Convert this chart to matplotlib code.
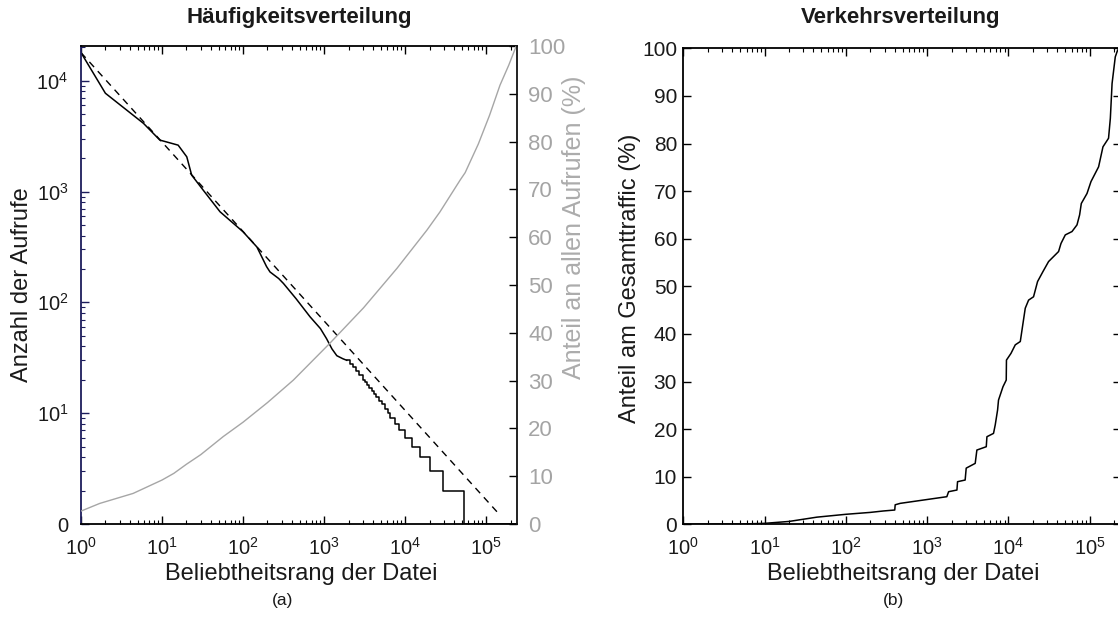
import matplotlib
matplotlib.use("Agg")
import matplotlib.pyplot as plt
from matplotlib.ticker import LogLocator, NullFormatter, FixedLocator

plt.rcParams['font.family'] = ['Liberation Sans', 'DejaVu Sans']
plt.rcParams['mathtext.fontset'] = 'custom'
plt.rcParams['mathtext.rm'] = 'Liberation Sans'
plt.rcParams['mathtext.it'] = 'Liberation Sans:italic'
plt.rcParams['mathtext.default'] = 'regular'

# ---- (a) request counts per file rank ----
# smooth upper part of the rank/frequency curve
head_rank = [1, 2, 5.9, 9.4, 15.8, 20.2, 23.2, 32.4, 52, 100, 148, 195, 215,
             275, 315, 450, 671, 900, 1072, 1250, 1435, 1700, 1900]
head_count = [17900, 7700, 4120, 2910, 2620, 2055, 1406, 1023, 656, 433, 316,
              210, 188, 164, 148, 108, 74, 58, 47, 38, 33, 31, 30]
# low-count tail: first rank with the given integer count
stair_rank = [1900, 2080, 2250, 2450, 2700, 3000, 3180, 3380, 3600, 3850, 4100,
              4400, 4750, 5150, 5600, 6100, 6450, 7400, 8500, 10000, 12100,
              15100, 20200, 28900, 53700, 235000]
stair_count = [30, 28, 26, 24, 22, 20, 19, 18, 17, 16, 15, 14, 13, 12, 11, 10,
               9, 8, 7, 6, 5, 4, 3, 2, 1, 1]
# fitted power law
fit_rank = [1, 1.5e5]
fit_count = [17900, 1.19]
# cumulative share of all requests (%)
share_rank = [1, 1.7, 4.4, 10, 14, 20, 30, 57, 100, 200, 417, 1175, 3055, 7940,
              18600, 26900, 47900, 55000, 80000, 110000, 148000, 190000, 235000]
share_pct = [2.7, 4.3, 6.4, 9.2, 10.6, 12.5, 14.5, 18.3, 21.3, 25.4, 30.1, 37.8,
             45.2, 53.5, 61.5, 65.3, 72.0, 73.5, 79.5, 85.5, 91.8, 96.0, 100.0]

# ---- (b) cumulative traffic share (%) ----
traffic_rank = [1, 5, 10, 20, 44, 100, 200, 290, 400, 405, 467, 1750, 1840, 2330,
                2370, 2940, 3030, 3910, 4100, 5350, 5450, 6570, 6900, 7370, 7570,
                8590, 9420, 9480, 10770, 12170, 14030, 15140, 16150, 17750,
                20420, 22890, 26680, 31270, 41510, 44450, 50230, 60700, 69950,
                75340, 79050, 92900, 104000, 129000, 146000, 171000, 180000,
                189000, 207000, 221000, 235000]
traffic_pct = [0.0, 0.05, 0.2, 0.6, 1.5, 2.1, 2.5, 2.8, 3.0, 4.1, 4.4, 5.8, 6.85,
               7.2, 8.95, 9.3, 11.8, 12.8, 15.6, 16.3, 18.4, 19.1, 20.9, 24.0,
               26.1, 28.9, 30.3, 34.5, 35.9, 37.7, 38.4, 42.2, 45.4, 47.1, 47.8,
               51.0, 53.1, 55.2, 57.3, 59.0, 60.8, 61.5, 62.9, 65.0, 67.4, 69.5,
               72.0, 75.1, 79.3, 81.1, 85.3, 92.6, 98.2, 99.6, 100.0]

x_ticks = [1, 10, 100, 1e3, 1e4, 1e5]
x_labels = ['$10^{%d}$' % i for i in range(6)]
x_max = 2.4e5

W, H = 1118, 617
fig = plt.figure(figsize=(W / 100, H / 100), dpi=100)

def px_axes(left, top, right, bottom):
    return fig.add_axes([left / W, 1 - bottom / H, (right - left) / W, (bottom - top) / H])

tick_fs = 14.5
label_fs = 17
title_fs = 16
navy = '#1c1c5c'
text_col = '#1a1a1a'
gray = '#a6a6a6'

def style_log_x(ax):
    ax.set_xscale('log')
    ax.set_xlim(1, x_max)
    ax.xaxis.set_major_locator(FixedLocator(x_ticks))
    ax.set_xticklabels(x_labels)
    ax.xaxis.set_minor_locator(LogLocator(base=10, subs=range(2, 10), numticks=20))
    ax.xaxis.set_minor_formatter(NullFormatter())
    ax.tick_params(axis='x', which='both', direction='in', top=True,
                   labelsize=tick_fs, labelcolor=text_col, pad=9)
    ax.tick_params(axis='x', which='major', length=6, width=1)
    ax.tick_params(axis='x', which='minor', length=3, width=0.8)

# ---------- panel (a) ----------
ax = px_axes(81, 46, 517, 524)
ax.plot(head_rank, head_count, color='black', lw=1.1)
ax.step(stair_rank, stair_count, where='post', color='black', lw=1.1)
ax.plot(fit_rank, fit_count, color='black', lw=1.0, ls=(0, (5, 4)))
style_log_x(ax)
ax.set_yscale('log')
ax.set_ylim(1, 20550)
ax.yaxis.set_major_locator(FixedLocator([1, 10, 100, 1e3, 1e4]))
ax.set_yticklabels(['0', '$10^{1}$', '$10^{2}$', '$10^{3}$', '$10^{4}$'])
ax.yaxis.set_minor_locator(LogLocator(base=10, subs=range(2, 10), numticks=20))
ax.yaxis.set_minor_formatter(NullFormatter())
ax.tick_params(axis='y', which='both', direction='in', right=False,
               labelsize=tick_fs, labelcolor=text_col, color=navy, pad=9)
ax.tick_params(axis='y', which='major', length=6, width=1)
ax.tick_params(axis='y', which='minor', length=3, width=0.8)
for s in ax.spines.values():
    s.set_linewidth(1.3)
ax.spines['left'].set_color(navy)
ax.spines['right'].set_visible(False)

ax2 = ax.twinx()
ax2.plot(share_rank, share_pct, color=gray, lw=1.0)
ax2.set_ylim(0, 100)
ax2.set_yticks(range(0, 101, 10))
ax2.tick_params(axis='y', direction='in', length=6, width=1, color='black',
                labelsize=16, labelcolor='#a4a4a4', pad=8)
for name in ['left', 'top', 'bottom']:
    ax2.spines[name].set_visible(False)
ax2.spines['right'].set_linewidth(1.3)
ax2.spines['right'].set_color('#111111')

fig.text(299 / W, 1 - 18 / H, 'Häufigkeitsverteilung', ha='center', va='center',
         fontsize=title_fs, fontweight='bold', color=text_col)
fig.text(22 / W, 1 - 285 / H, 'Anzahl der Aufrufe', rotation=90, ha='center',
         va='center', fontsize=label_fs, color=text_col)
fig.text(574 / W, 1 - 227 / H, 'Anteil an allen Aufrufen (%)', rotation=90,
         ha='center', va='center', fontsize=18, color='#acacac')
fig.text(301 / W, 1 - 574 / H, 'Beliebtheitsrang der Datei', ha='center',
         va='center', fontsize=label_fs, color=text_col)
fig.text(283 / W, 1 - 601 / H, '(a)', ha='center', va='center', fontsize=12.5,
         color=text_col)

# ---------- panel (b) ----------
bx = px_axes(683.3, 48.3, 1120.5, 524.3)
bx.plot(traffic_rank, traffic_pct, color='black', lw=1.1)
style_log_x(bx)
bx.set_ylim(0, 100)
bx.set_yticks(range(0, 101, 10))
bx.tick_params(axis='y', direction='in', right=True, length=6, width=1,
               labelsize=15, labelcolor=text_col, pad=4.5)
for s in bx.spines.values():
    s.set_linewidth(1.3)

fig.text(901 / W, 1 - 18 / H, 'Verkehrsverteilung', ha='center', va='center',
         fontsize=title_fs, fontweight='bold', color=text_col)
fig.text(630 / W, 1 - 278 / H, 'Anteil am Gesamttraffic (%)', rotation=90,
         ha='center', va='center', fontsize=label_fs, color=text_col)
fig.text(903 / W, 1 - 574 / H, 'Beliebtheitsrang der Datei', ha='center',
         va='center', fontsize=label_fs, color=text_col)
fig.text(893 / W, 1 - 601 / H, '(b)', ha='center', va='center', fontsize=12.5,
         color=text_col)

fig.savefig('out.png', dpi=100, facecolor='white')
